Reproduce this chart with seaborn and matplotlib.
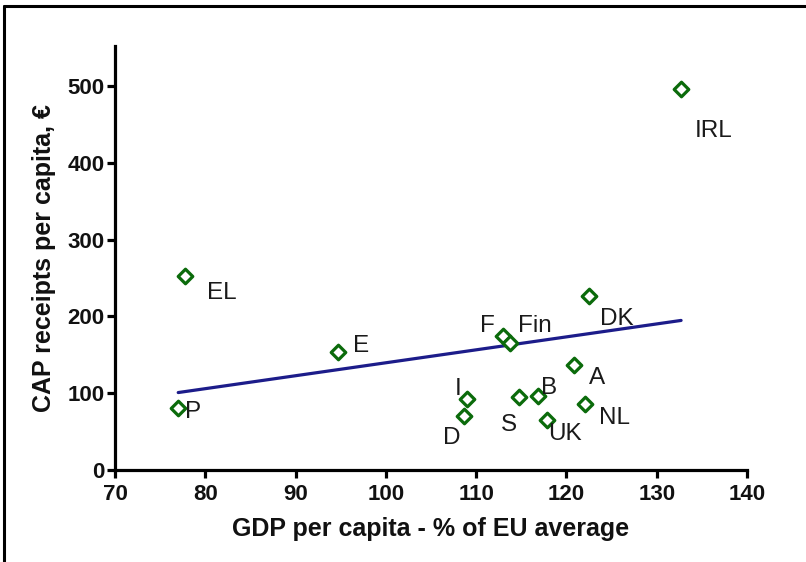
import matplotlib
matplotlib.use("Agg")
import matplotlib.pyplot as plt
import seaborn as sns
import pandas as pd
from matplotlib.lines import Line2D

countries = ["P", "EL", "E", "I", "D", "F", "Fin", "S", "B", "UK", "A", "NL", "DK", "IRL"]
gdp = [77.0, 77.7, 94.7, 109.0, 108.6, 113.0, 113.8, 114.8, 116.8, 117.8, 120.8, 122.1, 122.5, 132.7]
cap = [81, 252, 154, 93, 70, 174, 166, 95, 97, 65, 137, 86, 227, 496]

df = pd.DataFrame({"country": countries, "gdp": gdp, "cap": cap})

# label offsets in pixels (x right, y up)
offsets = {"P": (15, -4), "EL": (37, -17), "E": (23, 6), "I": (-9, 10), "D": (-12, -22),
           "F": (-16, 10), "Fin": (24, 17), "S": (-11, -28), "B": (12, 8), "UK": (18, -14),
           "A": (23, -13), "NL": (29, -14), "DK": (28, -23), "IRL": (33, -42)}

sns.set_style("ticks")
plt.rcParams['font.family'] = ['Liberation Sans', 'DejaVu Sans']

fig = plt.figure(figsize=(8.06, 5.62), dpi=100)
ax = fig.add_axes([0.1427, 0.1637, 0.7841, 0.7543])

sns.regplot(x="gdp", y="cap", data=df, scatter=False, ci=None, ax=ax,
            color="#1c1c8a", line_kws={"linewidth": 2.3})
sns.scatterplot(x="gdp", y="cap", data=df, ax=ax, marker="D", s=55,
                facecolor="white", edgecolor="#0b6b0b", linewidth=2.3, zorder=3)

for c, xv, yv in zip(countries, gdp, cap):
    ax.annotate(c, (xv, yv), xytext=offsets[c], textcoords="offset pixels",
                ha="center", va="center", fontsize=17.5, color="#1a1a1a")

ax.set_xlim(70, 140)
ax.set_ylim(0, 552)
ax.set_xticks(range(70, 141, 10))
ax.set_yticks(range(0, 501, 100))
ax.spines["top"].set_visible(False)
ax.spines["right"].set_visible(False)
ax.spines["left"].set_bounds(0, 552)
for s in ["left", "bottom"]:
    ax.spines[s].set_linewidth(2.3)
    ax.spines[s].set_color("black")
ax.tick_params(axis="both", length=6, width=2.3, labelsize=16, color="black", labelcolor="#111111")
ax.tick_params(axis="x", pad=4)
ax.tick_params(axis="y", pad=1.5)
for lab in ax.get_xticklabels() + ax.get_yticklabels():
    lab.set_fontweight("bold")
ax.set_xlabel("GDP per capita - % of EU average", fontsize=18, fontweight="bold", labelpad=9, color="#111111")
ax.set_ylabel("CAP receipts per capita, €", fontsize=18, fontweight="bold", labelpad=8, color="#111111")

# outer frame (only left and top edges show)
fig.add_artist(Line2D([0.005, 0.005], [0, 0.99], color="black", linewidth=2.2, transform=fig.transFigure))
fig.add_artist(Line2D([0.005, 1], [0.99, 0.99], color="black", linewidth=2.2, transform=fig.transFigure))

fig.savefig("out.png", dpi=100)
